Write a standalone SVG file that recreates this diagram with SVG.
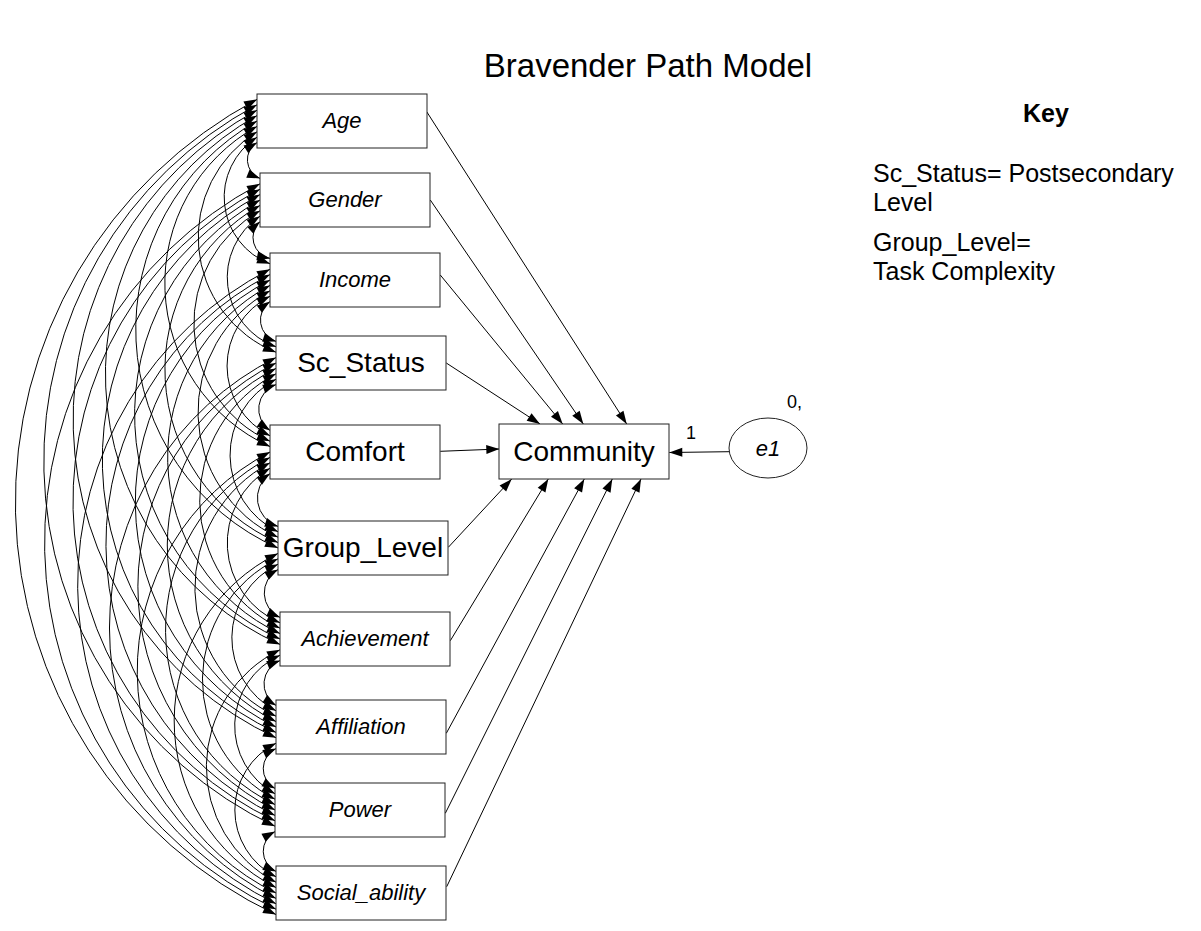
<svg xmlns="http://www.w3.org/2000/svg" width="1201" height="931" viewBox="0 0 1201 931">
  <defs>
    <marker id="ah" markerUnits="userSpaceOnUse" markerWidth="14" markerHeight="10" refX="13" refY="4.5" orient="auto-start-reverse" overflow="visible">
      <path d="M0,0 L13,4.5 L0,9 z" fill="#000"/>
    </marker>
    <style>
      .box { fill: #fff; stroke: #222; stroke-width: 1; }
      .t { font-family: "Liberation Sans", Arial, sans-serif; fill: #000; }
      .c { text-anchor: middle; }
      .it { font-style: italic; font-size: 22px; }
      .big { font-size: 28px; }
      .key { font-size: 25px; }
      .cov { fill: none; stroke: #000; stroke-width: 1; marker-start: url(#ah); marker-end: url(#ah); }
      .reg { fill: none; stroke: #000; stroke-width: 1; marker-end: url(#ah); }
    </style>
  </defs>
  <rect width="1201" height="931" fill="#fff"/>

  <text class="t c" x="648" y="77" font-size="33">Bravender Path Model</text>

  <!-- covariances (double-headed arcs) and regression paths -->
  <g id="connectors">
    <!-- Age -->
    <path class="cov" d="M257,142.6 A20.1,20.1 0 0 0 260,178.4"/>
    <path class="cov" d="M257,137.2 A71.3,71.3 0 0 0 270,263.8"/>
    <path class="cov" d="M257,131.8 A123.9,123.9 0 0 0 276,352.2"/>
    <path class="cov" d="M257,126.4 A179.5,179.5 0 0 0 270,446.6"/>
    <path class="cov" d="M257,121 A239.4,239.4 0 0 0 278,548"/>
    <path class="cov" d="M257,115.6 A296.4,296.4 0 0 0 280,644.4"/>
    <path class="cov" d="M257,110.2 A351.6,351.6 0 0 0 276,737.8"/>
    <path class="cov" d="M257,104.8 A404.1,404.1 0 0 0 275,826.2"/>
    <path class="cov" d="M257,99.4 A456.6,456.6 0 0 0 276,914.6"/>
    <!-- Gender -->
    <path class="cov" d="M260,221.6 A21.4,21.4 0 0 0 270,258.4"/>
    <path class="cov" d="M260,216.2 A73.7,73.7 0 0 0 276,346.8"/>
    <path class="cov" d="M260,210.8 A129.1,129.1 0 0 0 270,441.2"/>
    <path class="cov" d="M260,205.4 A189.1,189.1 0 0 0 278,542.6"/>
    <path class="cov" d="M260,200 A246.1,246.1 0 0 0 280,639"/>
    <path class="cov" d="M260,194.6 A301.3,301.3 0 0 0 276,732.4"/>
    <path class="cov" d="M260,189.2 A353.8,353.8 0 0 0 275,820.8"/>
    <path class="cov" d="M260,183.8 A406.3,406.3 0 0 0 276,909.2"/>
    <!-- Income -->
    <path class="cov" d="M270,301.6 A22.5,22.5 0 0 0 276,341.4"/>
    <path class="cov" d="M270,296.2 A78.2,78.2 0 0 0 270,435.8"/>
    <path class="cov" d="M270,290.8 A138,138 0 0 0 278,537.2"/>
    <path class="cov" d="M270,285.4 A195,195 0 0 0 280,633.6"/>
    <path class="cov" d="M270,280 A250.3,250.3 0 0 0 276,727"/>
    <path class="cov" d="M270,274.6 A302.8,302.8 0 0 0 275,815.4"/>
    <path class="cov" d="M270,269.2 A355.4,355.4 0 0 0 276,903.8"/>
    <!-- Sc_Status -->
    <path class="cov" d="M276,384.6 A25.9,25.9 0 0 0 270,430.4"/>
    <path class="cov" d="M276,379.2 A85.5,85.5 0 0 0 278,531.8"/>
    <path class="cov" d="M276,373.8 A142.5,142.5 0 0 0 280,628.2"/>
    <path class="cov" d="M276,368.4 A197.8,197.8 0 0 0 276,721.6"/>
    <path class="cov" d="M276,363 A250.3,250.3 0 0 0 275,810"/>
    <path class="cov" d="M276,357.6 A302.8,302.8 0 0 0 276,898.4"/>
    <!-- Comfort -->
    <path class="cov" d="M270,473.6 A29.9,29.9 0 0 0 278,526.4"/>
    <path class="cov" d="M270,468.2 A86.8,86.8 0 0 0 280,622.8"/>
    <path class="cov" d="M270,462.8 A141.9,141.9 0 0 0 276,716.2"/>
    <path class="cov" d="M270,457.4 A194.4,194.4 0 0 0 275,804.6"/>
    <path class="cov" d="M270,452 A247,247 0 0 0 276,893"/>
    <!-- Group_Level -->
    <path class="cov" d="M278,569.6 A26.8,26.8 0 0 0 280,617.4"/>
    <path class="cov" d="M278,564.2 A82.1,82.1 0 0 0 276,710.8"/>
    <path class="cov" d="M278,558.8 A134.6,134.6 0 0 0 275,799.2"/>
    <path class="cov" d="M278,553.4 A187.2,187.2 0 0 0 276,887.6"/>
    <!-- Achievement -->
    <path class="cov" d="M280,660.6 A25.1,25.1 0 0 0 276,705.4"/>
    <path class="cov" d="M280,655.2 A77.6,77.6 0 0 0 275,793.8"/>
    <path class="cov" d="M280,649.8 A130.1,130.1 0 0 0 276,882.2"/>
    <!-- Affiliation -->
    <path class="cov" d="M276,748.6 A22.3,22.3 0 0 0 275,788.4"/>
    <path class="cov" d="M276,743.2 A74.8,74.8 0 0 0 276,876.8"/>
    <!-- Power -->
    <path class="cov" d="M275,831.6 A22.3,22.3 0 0 0 276,871.4"/>

    <!-- regression paths into Community -->
    <line class="reg" x1="426.7" y1="111.7" x2="626.7" y2="424"/>
    <line class="reg" x1="430.3" y1="200" x2="583.3" y2="424"/>
    <line class="reg" x1="440.3" y1="275" x2="562.7" y2="424"/>
    <line class="reg" x1="446.3" y1="363" x2="540" y2="424"/>
    <line class="reg" x1="440.3" y1="451.3" x2="499.3" y2="449"/>
    <line class="reg" x1="448.3" y1="547.3" x2="511.7" y2="479"/>
    <line class="reg" x1="450.3" y1="640.7" x2="548.3" y2="479"/>
    <line class="reg" x1="446.3" y1="733.3" x2="584.3" y2="479"/>
    <line class="reg" x1="445.3" y1="813.3" x2="612.3" y2="479"/>
    <line class="reg" x1="446.7" y1="886.7" x2="641" y2="479"/>
    <line class="reg" x1="729" y1="451.7" x2="669.3" y2="452.5"/>
  </g>

  <g id="age"><rect class="box" x="257" y="94" width="170" height="54"/><text class="t c it" x="342" y="128">Age</text></g>
  <g id="gender"><rect class="box" x="260" y="173" width="170" height="54"/><text class="t c it" x="345" y="207">Gender</text></g>
  <g id="income"><rect class="box" x="270" y="253" width="170" height="54"/><text class="t c it" x="355" y="287">Income</text></g>
  <g id="sc_status"><rect class="box" x="276" y="336" width="170" height="54"/><text class="t c big" x="361" y="372">Sc_Status</text></g>
  <g id="comfort"><rect class="box" x="270" y="425" width="170" height="54"/><text class="t c big" x="355" y="461">Comfort</text></g>
  <g id="group_level"><rect class="box" x="278" y="521" width="170" height="54"/><text class="t c big" x="363" y="557">Group_Level</text></g>
  <g id="achievement"><rect class="box" x="280" y="612" width="170" height="54"/><text class="t c it" x="365" y="646">Achievement</text></g>
  <g id="affiliation"><rect class="box" x="276" y="700" width="170" height="54"/><text class="t c it" x="361" y="734">Affiliation</text></g>
  <g id="power"><rect class="box" x="275" y="783" width="170" height="54"/><text class="t c it" x="360" y="817">Power</text></g>
  <g id="social_ability"><rect class="box" x="276" y="866" width="170" height="54"/><text class="t c it" x="361" y="900">Social_ability</text></g>

  <g id="community"><rect class="box" x="499" y="424" width="170" height="55"/><text class="t c big" x="584" y="461">Community</text></g>
  <g id="e1"><ellipse class="box" cx="768" cy="448" rx="39" ry="30"/><text class="t c it" x="768" y="456">e1</text></g>
  <text class="t" x="686" y="439" font-size="18">1</text>
  <text class="t" x="787" y="408" font-size="18">0,</text>

  <g id="key">
    <text class="t c" x="1046" y="122" font-size="25" font-weight="bold">Key</text>
    <text class="t key" x="873" y="182">Sc_Status= Postsecondary</text>
    <text class="t key" x="873" y="211">Level</text>
    <text class="t key" x="873" y="251">Group_Level=</text>
    <text class="t key" x="873" y="280">Task Complexity</text>
  </g>
</svg>
